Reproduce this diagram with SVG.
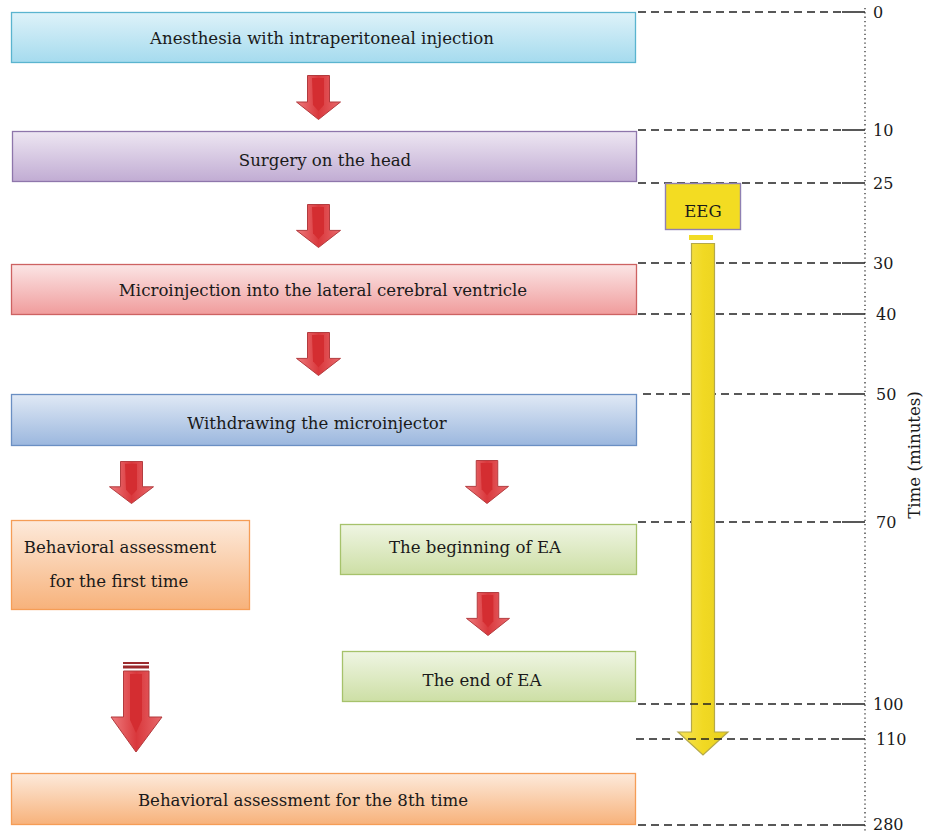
<svg xmlns="http://www.w3.org/2000/svg" xmlns:xlink="http://www.w3.org/1999/xlink" width="925" height="834" viewBox="0 0 925 834">
<defs>
<linearGradient id="gCyan" x1="0" y1="0" x2="0" y2="1"><stop offset="0" stop-color="#def2f9"/><stop offset="1" stop-color="#a5dbee"/></linearGradient>
<linearGradient id="gPurple" x1="0" y1="0" x2="0" y2="1"><stop offset="0" stop-color="#ede6f2"/><stop offset="1" stop-color="#c1acd3"/></linearGradient>
<linearGradient id="gRed" x1="0" y1="0" x2="0" y2="1"><stop offset="0" stop-color="#fbe5e5"/><stop offset="1" stop-color="#f09c9c"/></linearGradient>
<linearGradient id="gBlue" x1="0" y1="0" x2="0" y2="1"><stop offset="0" stop-color="#e0e9f5"/><stop offset="1" stop-color="#9bb7de"/></linearGradient>
<linearGradient id="gOrange" x1="0" y1="0" x2="0" y2="1"><stop offset="0" stop-color="#fdeadb"/><stop offset="1" stop-color="#f7b27b"/></linearGradient>
<linearGradient id="gGreen" x1="0" y1="0" x2="0" y2="1"><stop offset="0" stop-color="#eff5e3"/><stop offset="1" stop-color="#cddfa5"/></linearGradient>
<linearGradient id="gArrow" x1="0" y1="0" x2="1" y2="0"><stop offset="0" stop-color="#ee7b7e"/><stop offset="0.5" stop-color="#d9383c"/><stop offset="1" stop-color="#e86a6d"/></linearGradient>
<linearGradient id="gYellow" x1="0" y1="0" x2="1" y2="0"><stop offset="0" stop-color="#f6e35a"/><stop offset="0.5" stop-color="#f1d923"/><stop offset="1" stop-color="#e8d020"/></linearGradient>
<symbol id="redArrow" viewBox="0 0 45 45" preserveAspectRatio="none">
<path d="M11.5,0.5 L33.5,0.5 L33.5,27 L44.5,27 L22.5,44.5 L0.5,27 L11.5,27 Z" fill="url(#gArrow)" stroke="#b23a3d" stroke-width="1"/>
<path d="M16,3 L28,3 L28,30 L22.5,36 L17,30 Z" fill="#d42d31"/>
</symbol>
<style>
.t { font-family: 'DejaVu Serif', serif; font-size: 16.6px; fill: #1a1a1a; }
.tick { font-family: 'DejaVu Serif', serif; font-size: 16px; fill: #1a1a1a; }
.dash { stroke: #222; stroke-width: 1.3; stroke-dasharray: 8 5; fill: none; }
.tk { stroke: #222; stroke-width: 1.5; }
</style>
</defs>
<rect width="925" height="834" fill="#ffffff"/>

<g id="axis">
<line x1="865" y1="8" x2="865" y2="832" stroke="#333" stroke-width="1.3" stroke-dasharray="1.3 3"/>
<path class="dash" d="M638,12H842 M638,130H842 M638,183H842 M638,263H842 M638,314H842 M643,394H842 M638,522H842 M638,825H842"/>
<path class="tk" d="M842,12H865 M842,130H865 M842,183H865 M842,263H865 M842,314H865 M842,394H865 M842,522H865 M842,704H865 M842,739H865 M842,825H865"/>
<text class="tick" x="873" y="18">0</text>
<text class="tick" x="873" y="136">10</text>
<text class="tick" x="873" y="189">25</text>
<text class="tick" x="873" y="269">30</text>
<text class="tick" x="876" y="320">40</text>
<text class="tick" x="876" y="400">50</text>
<text class="tick" x="876" y="528">70</text>
<text class="tick" x="873" y="710">100</text>
<text class="tick" x="876" y="745">110</text>
<text class="tick" x="873" y="830">280</text>
<text class="t" font-size="17" transform="translate(920,455) rotate(-90)" text-anchor="middle">Time (minutes)</text>
</g>

<g id="n1"><rect x="11.5" y="12.5" width="624" height="50" fill="url(#gCyan)" stroke="#5ab4cf" stroke-width="1.3"/><text class="t" x="322" y="44" text-anchor="middle">Anesthesia with intraperitoneal injection</text></g>
<g id="n2"><rect x="12.5" y="131.5" width="624" height="50" fill="url(#gPurple)" stroke="#8e76ab" stroke-width="1.3"/><text class="t" x="325" y="166" text-anchor="middle">Surgery on the head</text></g>
<g id="n3"><rect x="11.5" y="264.5" width="625" height="50" fill="url(#gRed)" stroke="#cd6262" stroke-width="1.3"/><text class="t" x="323" y="296" text-anchor="middle">Microinjection into the lateral cerebral ventricle</text></g>
<g id="n4"><rect x="11.5" y="394.5" width="625" height="51" fill="url(#gBlue)" stroke="#6a8fc3" stroke-width="1.3"/><text class="t" x="317" y="429" text-anchor="middle">Withdrawing the microinjector</text></g>
<g id="n5"><rect x="11.5" y="520.5" width="238" height="89" fill="url(#gOrange)" stroke="#f59d56" stroke-width="1.3"/><text class="t" x="120" y="553" text-anchor="middle">Behavioral assessment</text><text class="t" x="119" y="587" text-anchor="middle">for the first time</text></g>
<g id="n6"><rect x="340.5" y="524.5" width="296" height="50" fill="url(#gGreen)" stroke="#a6c26b" stroke-width="1.3"/><text class="t" x="475" y="553" text-anchor="middle">The beginning of EA</text></g>
<g id="n7"><rect x="342.5" y="651.5" width="293" height="50" fill="url(#gGreen)" stroke="#a6c26b" stroke-width="1.3"/><text class="t" x="482" y="686" text-anchor="middle">The end of EA</text></g>
<g id="n8"><rect x="11.5" y="773.5" width="624" height="51" fill="url(#gOrange)" stroke="#f59d56" stroke-width="1.3"/><text class="t" x="303" y="806" text-anchor="middle">Behavioral assessment for the 8th time</text></g>

<g id="eeg">
<rect x="689" y="235" width="24" height="5" fill="#f2dc25"/>
<path d="M691.5,243.5 L714.5,243.5 L714.5,732 L728,732 L703,755 L678,732 L691.5,732 Z" fill="url(#gYellow)" stroke="#b4a84a" stroke-width="1.2"/>
<g id="n9"><rect x="665.5" y="183.5" width="75" height="46" fill="#f3dc22" stroke="#8f80b2" stroke-width="1.4"/><text class="t" x="703" y="217" text-anchor="middle">EEG</text></g>
</g>

<g id="connectors">
<use xlink:href="#redArrow" x="296" y="75" width="45" height="45"/>
<use xlink:href="#redArrow" x="296" y="204" width="45" height="44"/>
<use xlink:href="#redArrow" x="296" y="332" width="45" height="44"/>
<use xlink:href="#redArrow" x="109" y="461" width="45" height="43"/>
<use xlink:href="#redArrow" x="465" y="460" width="44" height="44"/>
<use xlink:href="#redArrow" x="466" y="592" width="44" height="44"/>
<rect x="123" y="662" width="26" height="2" fill="#9b2a2d"/>
<rect x="123" y="665.5" width="26" height="3" fill="#9b2a2d"/>
<path d="M123.5,671 L149,671 L149,717 L162,717 L136,752 L111,717 L123.5,717 Z" fill="url(#gArrow)" stroke="#b23a3d" stroke-width="1"/>
<path d="M130,674 L142,674 L142,720 L136,733 L130,720 Z" fill="#d42d31"/>
</g>

<g id="overlay">
<path class="dash" d="M638,704H842 M636,739H842"/>
</g>
</svg>
